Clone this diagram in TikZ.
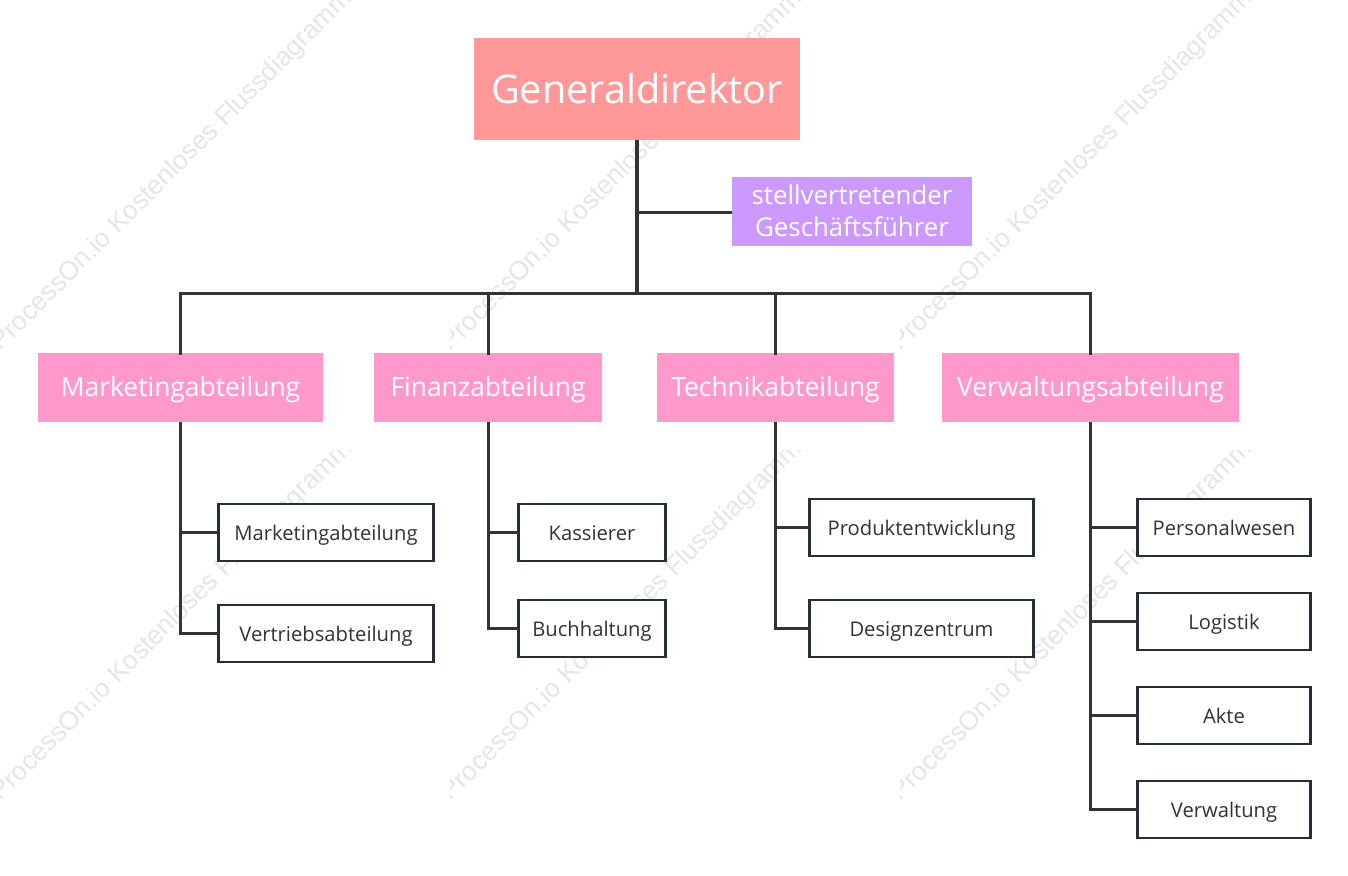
\documentclass[tikz,border=0pt]{standalone}
\usepackage{fontspec}
\setmainfont{Open Sans}
\newfontfamily\wmfont{Liberation Sans}
\definecolor{gdcol}{HTML}{FF9999}
\definecolor{vicecol}{HTML}{CC99FF}
\definecolor{deptcol}{HTML}{FF99CC}
\definecolor{linecol}{HTML}{333333}
\definecolor{boxcol}{HTML}{262F38}
\definecolor{wmcol}{HTML}{E6E6E6}
\tikzset{
  base/.style={rectangle,inner sep=0pt,outer sep=0pt,align=center},
  gdbox/.style={base,fill=gdcol,text=white,text height=38pt,text depth=10pt,font=\fontsize{39.6}{46}\selectfont},
  vicebox/.style={base,text=white,font=\fontsize{25.8}{32}\selectfont},
  deptbox/.style={base,fill=deptcol,text=white,text height=24pt,text depth=6.6pt,font=\fontsize{26.4}{30}\selectfont},
  childbox/.style={base,draw=boxcol,line width=2.8pt,fill=white,text=linecol,text height=21pt,text depth=5pt,font=\fontsize{20.2}{24}\selectfont},
  thickline/.style={draw=linecol,line width=4pt},
  midline/.style={draw=linecol,line width=3pt},
  watermark/.style={inner sep=0pt,outer sep=0pt,text=wmcol,rotate=45,font=\wmfont\fontsize{26.4}{27}\selectfont}
}
\begin{document}
\begin{tikzpicture}[x=1pt,y=-1pt]
\useasboundingbox (0,0) rectangle (1348,875);
\fill[white] (0,0) rectangle (1348,875);
% watermark tiles
\foreach \tx in {0,450,900}{
  \foreach \ty in {0,450}{
    \begin{scope}
      \clip (\tx,\ty) rectangle ++(350,350);
      \node[watermark] (wm\tx\ty) at (\tx+172,\ty+171) {ProcessOn.io Kostenloses Flussdiagramm};
    \end{scope}
  }
}
% nodes
\node[gdbox,minimum width=326pt,minimum height=102pt] (gd) at (637,89) {Generaldirektor};
\fill[vicecol] (732,177) rectangle (972,246);
\node[vicebox,minimum width=240pt] (vice) at (852,210.5) {stellvertretender\\Geschäftsführer};
\coordinate (vicejoin) at (636.5,212);
\coordinate (bus) at (636.5,293);
\coordinate (busl) at (180.5,293);
\coordinate (busr) at (1090.5,293);

\node[deptbox,minimum width=285pt,minimum height=69pt] (d1) at (180.5,387.5) {Marketingabteilung};
\node[deptbox,minimum width=228pt,minimum height=69pt] (d2) at (488,387.5) {Finanzabteilung};
\node[deptbox,minimum width=237pt,minimum height=69pt] (d3) at (775.5,387.5) {Technikabteilung};
\node[deptbox,minimum width=297pt,minimum height=69pt] (d4) at (1090.5,387.5) {Verwaltungsabteilung};

\node[childbox,minimum width=215pt,minimum height=57pt] (c11) at (326,532.5) {Marketingabteilung};
\node[childbox,minimum width=215pt,minimum height=57pt] (c12) at (326,633.5) {Vertriebsabteilung};
\node[childbox,minimum width=147pt,minimum height=57pt] (c21) at (592,532.5) {Kassierer};
\node[childbox,minimum width=147pt,minimum height=57pt] (c22) at (592,628.5) {Buchhaltung};
\node[childbox,minimum width=224pt,minimum height=57pt] (c31) at (921.5,527.5) {Produktentwicklung};
\node[childbox,minimum width=224pt,minimum height=57pt] (c32) at (921.5,628.5) {Designzentrum};
\node[childbox,minimum width=173pt,minimum height=57pt] (c41) at (1224,527.5) {Personalwesen};
\node[childbox,minimum width=173pt,minimum height=57pt] (c42) at (1224,621.5) {Logistik};
\node[childbox,minimum width=173pt,minimum height=57pt] (c43) at (1224,715.5) {Akte};
\node[childbox,minimum width=173pt,minimum height=57pt] (c44) at (1224,809.5) {Verwaltung};

% connectors
\draw[thickline] (gd.south -| bus) -- (bus);
\draw[midline] (vicejoin) -- (vice.west |- vicejoin);
\draw[midline] (busl) -- (bus);
\draw[midline] (bus) -- (busr);
\draw[midline] (d2.north |- bus) -- (bus);
\foreach \d in {d1,d2,d3,d4}{
  \draw[midline,line cap=rect] (\d.north |- bus) -- (\d.north);
}
\foreach \d/\c in {d1/c11,d1/c12,d2/c21,d2/c22,d3/c31,d3/c32,d4/c41,d4/c42,d4/c43,d4/c44}{
  \draw[midline] (\d.south) |- (\c.west);
}
\end{tikzpicture}
\end{document}
